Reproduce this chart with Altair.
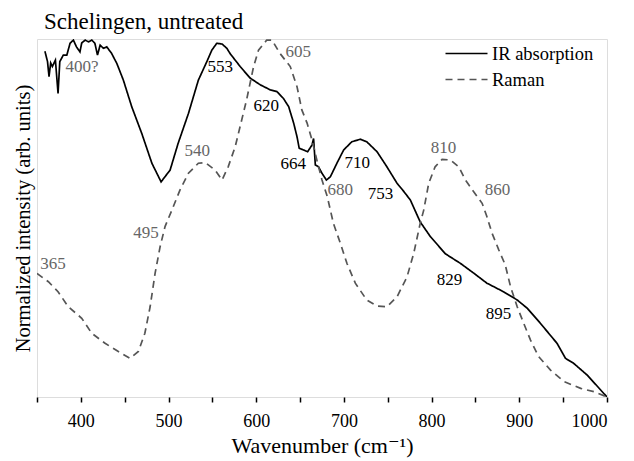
import altair as alt
import pandas as pd

# ---- data ----
ir_x = [359, 362, 363.7, 365.6, 367.5, 371, 374, 376, 380, 384, 387.7, 391.5, 395, 399, 401, 405,
        408.6, 412.5, 416, 419, 422, 425.7, 429.6, 435, 441, 448.5, 458, 469.5, 481, 491.5, 501.8,
        511, 522.7, 534, 543.7, 549.4, 555, 561, 566.5, 570, 581.7, 593, 604.6, 616, 623.6, 631,
        637, 642.7, 646.5, 649, 654, 658.6, 663.6, 665.4, 667.4, 671, 675, 680, 684.5, 692, 699.7,
        709, 718.7, 726, 737.8, 749, 760.6, 768, 775.8, 787, 798.6, 815.7, 833, 848, 863, 882,
        897.6, 909, 924, 943, 952.7, 962, 977.5, 1000]
ir_y = [0.966, 0.937, 0.895, 0.933, 0.923, 0.941, 0.848, 0.937, 0.955, 0.955, 0.988, 0.997, 0.978,
        0.964, 0.989, 0.997, 0.992, 0.997, 0.988, 0.955, 0.983, 0.974, 0.978, 0.960, 0.932, 0.885,
        0.811, 0.736, 0.653, 0.601, 0.634, 0.709, 0.792, 0.885, 0.937, 0.969, 0.988, 0.986, 0.974,
        0.960, 0.923, 0.891, 0.872, 0.858, 0.853, 0.834, 0.811, 0.765, 0.727, 0.695, 0.690, 0.685,
        0.704, 0.722, 0.648, 0.643, 0.625, 0.606, 0.615, 0.653, 0.690, 0.713, 0.720, 0.713, 0.685,
        0.643, 0.597, 0.575, 0.550, 0.489, 0.448, 0.400, 0.373, 0.346, 0.318, 0.294, 0.271, 0.248,
        0.206, 0.150, 0.108, 0.094, 0.061, 0.0]

raman_x = [350, 363, 374, 385.7, 401, 412.4, 427.6, 442.8, 456, 465.6, 473, 479, 484.7, 490.4, 496,
           503.8, 513, 522.7, 534, 541.8, 553, 561, 568, 576, 589, 597, 602.6, 612, 618, 627, 638.8,
           646.5, 652, 658, 663.6, 670, 675, 681, 688, 696, 703.5, 713, 726, 737.8, 749, 760.6, 772,
           779.6, 787, 791, 796.7, 804, 812, 821.5, 831, 838.6, 848, 857.6, 863, 869, 876.6, 884,
           890, 897.6, 905, 912.8, 922, 935.6, 951, 970, 985, 1000]
raman_y = [0.345, 0.322, 0.294, 0.252, 0.220, 0.178, 0.150, 0.127, 0.108, 0.127, 0.178, 0.252, 0.346,
           0.420, 0.476, 0.522, 0.578, 0.625, 0.653, 0.655, 0.634, 0.606, 0.643, 0.699, 0.830, 0.923,
           0.969, 0.997, 0.997, 0.960, 0.923, 0.867, 0.802, 0.765, 0.718, 0.653, 0.606, 0.560, 0.485,
           0.429, 0.373, 0.318, 0.271, 0.254, 0.252, 0.280, 0.336, 0.401, 0.485, 0.522, 0.597, 0.643,
           0.664, 0.662, 0.643, 0.606, 0.573, 0.541, 0.504, 0.457, 0.411, 0.369, 0.308, 0.252, 0.206,
           0.159, 0.113, 0.075, 0.043, 0.024, 0.015, 0.0]

ir_labels = ["553", "620", "664", "710", "753", "829", "895"]
ir_label_x = [558.9, 611.4, 642.2, 715.3, 741.6, 820.3, 876.3]
ir_label_y = [0.922, 0.813, 0.651, 0.654, 0.567, 0.327, 0.232]

raman_labels = ["400?", "365", "495", "540", "605", "680", "810", "860"]
raman_label_x = [401.4, 368.3, 474.4, 532.6, 648.0, 695.9, 813.5, 875.1]
raman_label_y = [0.922, 0.372, 0.458, 0.687, 0.964, 0.578, 0.696, 0.578]

series_names = ["IR absorption", "Raman"]
x_ticks = [350, 400, 450, 500, 550, 600, 650, 700, 750, 800, 850, 900, 950, 1000]

FONT = "Liberation Serif, Times New Roman, DejaVu Serif, serif"

lines = pd.concat([
    pd.DataFrame({"x": ir_x, "y": ir_y, "series": series_names[0]}),
    pd.DataFrame({"x": raman_x, "y": raman_y, "series": series_names[1]}),
])
ir_lab = pd.DataFrame({"x": ir_label_x, "y": ir_label_y, "t": ir_labels})
ra_lab = pd.DataFrame({"x": raman_label_x, "y": raman_label_y, "t": raman_labels})

xscale = alt.Scale(domain=[350, 1000], nice=False, zero=False)
yscale = alt.Scale(domain=[0, 1], nice=False, zero=False)

xaxis = alt.Axis(values=x_ticks, labelExpr="datum.value % 100 == 0 ? datum.label : ''",
                 title="Wavenumber (cm⁻¹)", grid=False, tickSize=5, tickColor="black",
                 tickWidth=1.5, domain=False, labelFont=FONT, labelFontSize=18,
                 labelColor="black", labelPadding=10, titleFont=FONT, titleFontSize=22,
                 titleFontWeight="normal", titleColor="black", titlePadding=5, format="d")
yaxis = alt.Axis(title="Normalized intensity (arb. units)", grid=False, ticks=False,
                 labels=False, domain=False, titleFont=FONT, titleFontSize=20.5,
                 titleFontWeight="normal", titleColor="black", titlePadding=4)

line_layer = alt.Chart(lines).mark_line(strokeWidth=1.7, clip=True).encode(
    x=alt.X("x:Q", scale=xscale, axis=xaxis),
    y=alt.Y("y:Q", scale=yscale, axis=yaxis),
    color=alt.Color("series:N", scale=alt.Scale(domain=series_names, range=["black", "#555555"]),
                    legend=alt.Legend(title=None, orient="none", legendX=418, legendY=3,
                                      symbolType="M-2,0H2", symbolSize=441, symbolStrokeWidth=1.7,
                                      labelFont=FONT, labelFontSize=18.5, labelColor="black",
                                      rowPadding=5, labelOffset=14)),
    strokeDash=alt.StrokeDash("series:N",
                              scale=alt.Scale(domain=series_names, range=[[1, 0], [7, 5]]),
                              legend=None),
    order=alt.Order("x:Q"),
)

ir_text = alt.Chart(ir_lab).mark_text(font=FONT, fontSize=17, color="black").encode(
    x=alt.X("x:Q", scale=xscale), y=alt.Y("y:Q", scale=yscale), text="t:N")
ra_text = alt.Chart(ra_lab).mark_text(font=FONT, fontSize=17, color="#666666").encode(
    x=alt.X("x:Q", scale=xscale), y=alt.Y("y:Q", scale=yscale), text="t:N")

chart = alt.layer(line_layer, ir_text, ra_text).properties(
    width=570, height=358,
    title=alt.TitleParams("Schelingen, untreated", anchor="start", frame="group", font=FONT,
                          fontSize=23, fontWeight="normal", color="black", dx=7, offset=5),
    autosize=alt.AutoSizeParams(type="none"),
    padding={"left": 37, "top": 39, "right": 27, "bottom": 64},
).configure_view(stroke="black", strokeWidth=2.4).configure(background="white")

chart.save("out.html", embed_options={"renderer": "svg", "actions": False})
